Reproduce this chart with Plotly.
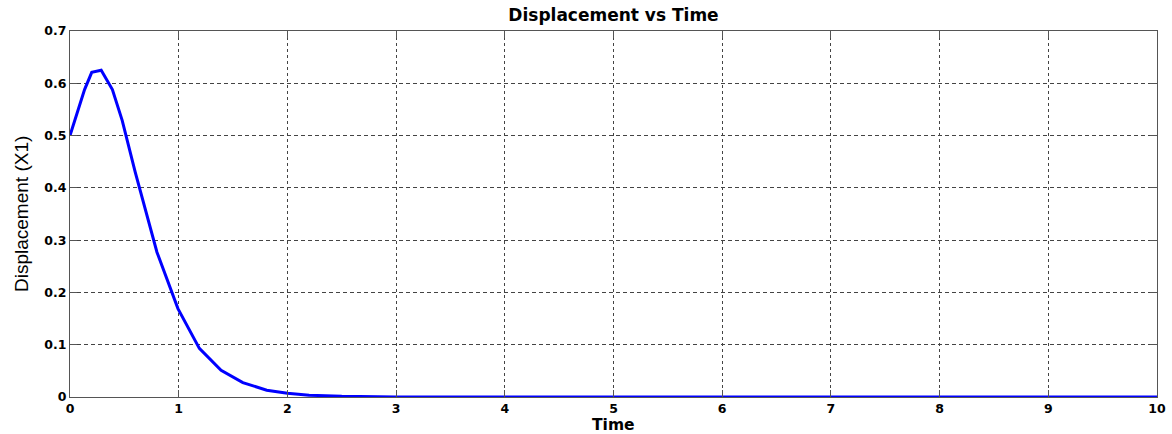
import plotly.graph_objects as go

time = [0.0, 0.134, 0.2, 0.287, 0.39, 0.48, 0.6, 0.8, 0.993, 1.19, 1.39, 1.59, 1.81,
        2.0, 2.2, 2.5, 3.0, 3.5, 4.0, 5.0, 6.0, 7.0, 8.0, 9.0, 10.0]
displacement = [0.5, 0.588, 0.621, 0.625, 0.588, 0.529, 0.43, 0.277, 0.169, 0.093, 0.051,
                0.0275, 0.013, 0.007, 0.0035, 0.0012, 0.0002, 0.0, 0.0, 0.0, 0.0, 0.0,
                0.0, 0.0, 0.0]

x_ticks = [0, 1, 2, 3, 4, 5, 6, 7, 8, 9, 10]
y_ticks = [0, 0.1, 0.2, 0.3, 0.4, 0.5, 0.6, 0.7]
y_tick_labels = ["0", "0.1", "0.2", "0.3", "0.4", "0.5", "0.6", "0.7"]

fig = go.Figure()
fig.add_trace(go.Scatter(x=time, y=displacement, mode="lines",
                         line=dict(color="#0000FF", width=3), showlegend=False))

bold_font = "DejaVu Sans, Verdana, sans-serif"
tickfont = dict(family=bold_font, size=12.5, color="#000000")

fig.update_layout(
    width=1172, height=434,
    margin=dict(l=70, r=15, t=31, b=37, autoexpand=False),
    paper_bgcolor="white", plot_bgcolor="white",
    title=dict(text="<b>Displacement vs Time</b>", x=(70 + 1157) / 2 / 1172, xanchor="center",
               y=1 - 15 / 434, yanchor="middle",
               font=dict(family=bold_font, size=17, color="#000")),
    xaxis=dict(range=[0, 10], tickvals=x_ticks, ticktext=[f"<b>{v}</b>" for v in x_ticks],
               showgrid=True, gridcolor="#444444", griddash="dot", gridwidth=1,
               showline=True, linecolor="#555555", linewidth=1, mirror="ticks",
               ticks="inside", ticklen=7, tickcolor="#555555", ticklabelstandoff=0,
               tickfont=tickfont, zeroline=False, automargin=False),
    yaxis=dict(range=[0, 0.7], tickvals=y_ticks, ticktext=[f"<b>{t}</b>" for t in y_tick_labels],
               showgrid=True, gridcolor="#444444", griddash="4px,3px", gridwidth=1,
               showline=True, linecolor="#555555", linewidth=1, mirror="ticks",
               ticks="inside", ticklen=7, tickcolor="#555555",
               tickfont=tickfont, zeroline=False, automargin=False),
    annotations=[
        dict(text="<b>Time</b>", xref="paper", yref="paper", x=0.5, y=-17 / 366,
             xanchor="center", yanchor="top", showarrow=False,
             font=dict(family=bold_font, size=15.5, color="#000")),
        dict(text="Displacement (X1)", xref="paper", yref="paper", x=-49 / 1087, y=0.5,
             xanchor="center", yanchor="middle", textangle=-90, showarrow=False,
             font=dict(family="Liberation Sans Narrow, Liberation Sans, Arial, sans-serif",
                       size=19, color="#000")),
    ],
)

fig.write_html("out.html")
